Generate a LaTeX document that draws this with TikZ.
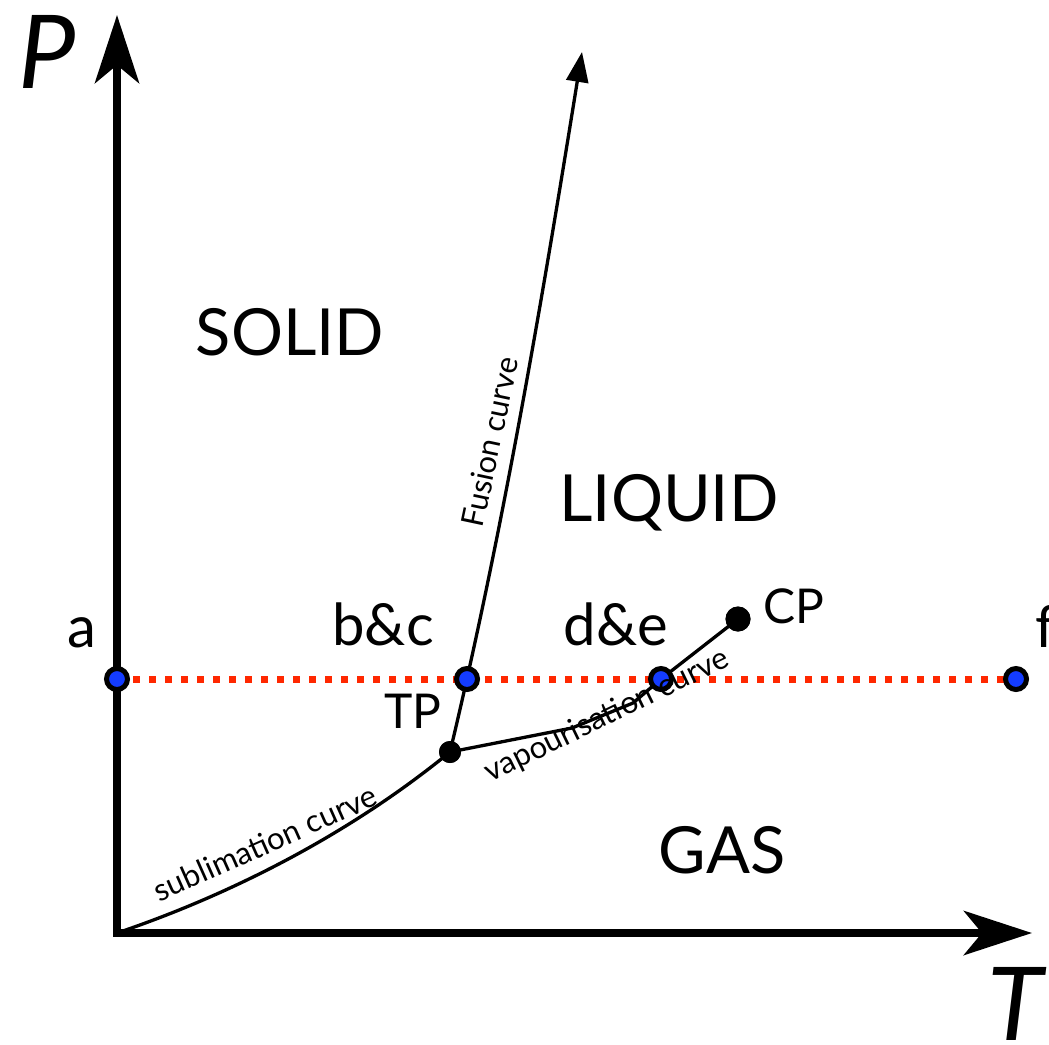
\documentclass[tikz,border=0pt]{standalone}
\usepackage{fontspec}
\setmainfont{Lato}
\usetikzlibrary{arrows.meta}
\definecolor{dotred}{RGB}{255,40,0}
\definecolor{ptblue}{RGB}{20,60,255}
\begin{document}
\begin{tikzpicture}[x=1pt,y=-1pt,
  axis/.style={line width=8.5pt, line join=miter,
    {Stealth[length=68pt,width=44pt,inset=18pt]}-{Stealth[length=68pt,width=44pt,inset=18pt]}},
  curve/.style={line width=3.3pt, line join=round, line cap=round},
  isobar/.style={dotred, line width=7pt, dash pattern=on 7pt off 9pt},
  statept/.style={circle, fill=ptblue, draw=black, line width=5pt, minimum size=21pt, inner sep=0pt},
  blackpt/.style={circle, fill=black, inner sep=0pt, minimum size=#1},
  phase/.style={inner sep=0pt, anchor=base, font=\fontsize{65}{70}\selectfont},
  ptlabel/.style={inner sep=0pt, anchor=base, font=\fontsize{58}{62}\selectfont},
  smalllabel/.style={inner sep=0pt, anchor=base, font=\fontsize{48}{52}\selectfont},
  curvelabel/.style={inner sep=0pt, font=\fontsize{31}{33}\selectfont},
  axislabel/.style={inner sep=0pt, anchor=base, font=\fontsize{102}{106}\selectfont\itshape}
]
\useasboundingbox (0,0) rectangle (1049,1044);
% key coordinates
\coordinate (O) at (117,933);
\coordinate (Ptip) at (117,15);
\coordinate (Ttip) at (1032,933);
\coordinate (Ftip) at (582,52);
\coordinate (v1) at (572,728);
\coordinate (v2) at (633,703);
% axes
\draw[axis] (Ptip) -- (O) -- (Ttip);
% triple and critical points
\node[blackpt=22pt] (TP) at (450,752) {};
\node[blackpt=25pt] (CP) at (738,619) {};
% curves
\draw[curve] (O) .. controls (200,905) and (330,850) .. (TP.center);
\draw[curve, -{Triangle[length=30pt,width=22pt]}] (TP.center) .. controls (505,522) and (545,282) .. (Ftip);
\coordinate (de) at (661,679);
\draw[curve] (TP.center) -- (v1) -- (v2) -- (de) -- (CP.center);
% isobar
\coordinate (ca) at (117,679);
\coordinate (cf) at (1016,679);
\draw[isobar] (ca) -- (cf);
% state points
\node[statept] (a) at (117,679) {};
\node[statept] (bc) at (467,679) {};
\node[statept] (dep) at (661,679) {};
\node[statept] (f) at (1016,679) {};
% redraw black dots on top
\node[blackpt=22pt] at (TP) {};
\node[blackpt=25pt] at (CP) {};
% labels
\node[axislabel] (Plab) at (47,88) {P};
\node[axislabel] (Tlab) at (1015,1040) {T};
\node[phase] (solid) at (290,355) {SOLID};
\node[phase] (liquid) at (669,521) {LIQUID};
\node[phase] (gas) at (722,873) {GAS};
\node[ptlabel] (alab) at (82,647) {a};
\node[ptlabel, anchor=base west] (flab) at (1035,647) {f};
\node[ptlabel] (bclab) at (383,645) {b\&c};
\node[ptlabel] (delab) at (616,645) {d\&e};
\node[smalllabel] (tplab) at (413,728) {TP};
\node[smalllabel, anchor=base west] (cplab) at (763,623) {CP};
\node[curvelabel, rotate=24] (sublab) at (265,843) {sublimation curve};
\node[curvelabel, rotate=78] (fuslab) at (490,442) {Fusion curve};
\node[curvelabel, rotate=26] (vaplab) at (607,716) {vapourisation curve};
\end{tikzpicture}
\end{document}
